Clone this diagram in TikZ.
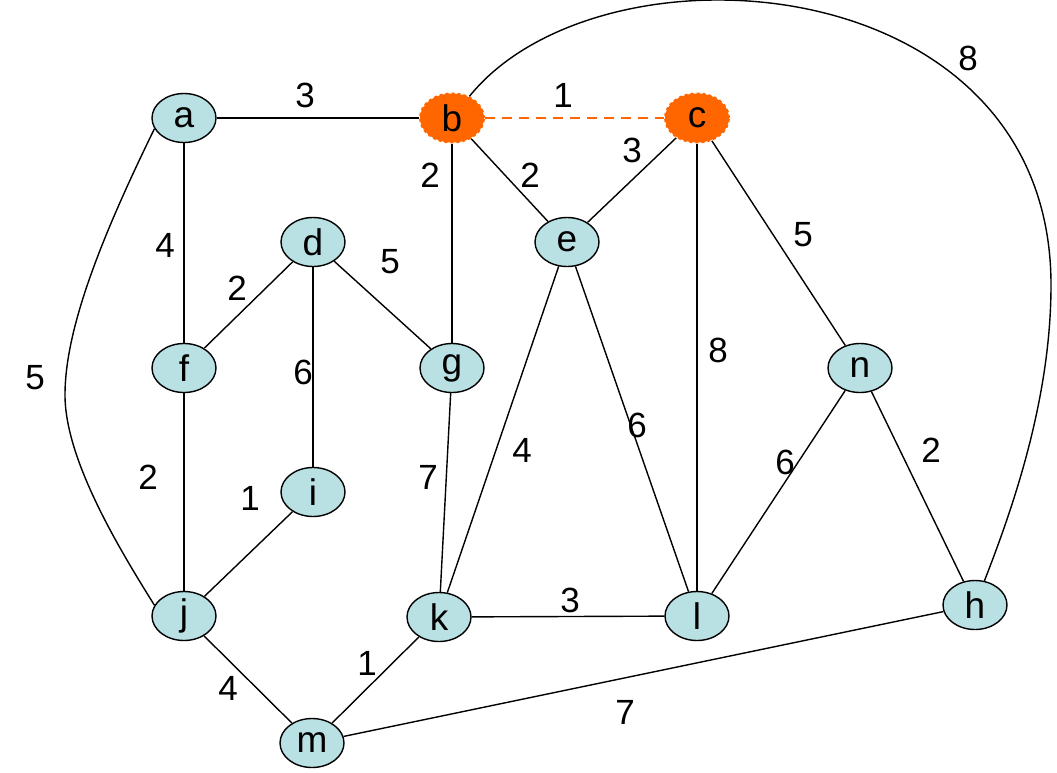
\documentclass[tikz,border=0pt]{standalone}
\usepackage{fontspec}
\setmainfont{Liberation Sans}
\usetikzlibrary{shapes.geometric}
\definecolor{nodeblue}{HTML}{B9E0E3}
\definecolor{hotorange}{HTML}{FF6600}
\begin{document}
\begin{tikzpicture}[x=1pt,y=-1pt,
  vert/.style={ellipse,draw=black,line width=1.4pt,fill=nodeblue,minimum width=64pt,minimum height=49pt,inner sep=0pt,font=\fontsize{37}{40}\selectfont},
  hot/.style={vert,draw=hotorange,dashed,fill=hotorange,line width=2pt},
  wt/.style={font=\fontsize{35}{38}\selectfont,inner sep=0pt},
  edge/.style={line width=1.4pt,black},
  hotedge/.style={line width=2pt,hotorange,dash pattern=on 10pt off 7pt}]
\useasboundingbox (0,0) rectangle (1057,772);
\node[vert] (a) at (184,118) {a};
\node[hot]  (b) at (452,118) {b};
\node[hot]  (c) at (697,118) {c};
\node[vert] (d) at (313,242) {d};
\node[vert] (e) at (567,242) {e};
\node[vert] (f) at (184,368) {f};
\node[vert] (g) at (452,368) {g};
\node[vert] (n) at (860,368) {n};
\node[vert] (i) at (313,492) {i};
\node[vert] (j) at (184,616) {j};
\node[vert] (k) at (439,617) {k};
\node[vert] (l) at (697,616) {l};
\node[vert] (h) at (975,605) {h};
\node[vert] (m) at (312,743) {m};
\coordinate (bh) at (1051,285);
\coordinate (aj) at (65,395);
\draw[edge] (a) -- (b);
\draw[hotedge] (b) -- (c);
\draw[edge] (a) -- (f);
\draw[edge] (a.200) .. controls (100,240) and (65,330) .. (aj) .. controls (65,460) and (120,550) .. (j.160);
\draw[edge] (b) -- (g);
\draw[edge] (b) -- (e);
\draw[edge] (c) -- (e);
\draw[edge] (c) -- (l);
\draw[edge] (c) -- (n);
\draw[edge] (b) .. controls (600,-66) and (1051,-36) .. (bh) .. controls (1051,400) and (1012,510) .. (h);
\draw[edge] (d) -- (f);
\draw[edge] (d) -- (g);
\draw[edge] (d) -- (i);
\draw[edge] (f) -- (j);
\draw[edge] (i) -- (j);
\draw[edge] (g) -- (k);
\draw[edge] (e) -- (k);
\draw[edge] (e) -- (l);
\draw[edge] (n) -- (l);
\draw[edge] (n) -- (h);
\draw[edge] (k) -- (l);
\draw[edge] (j) -- (m);
\draw[edge] (m) -- (k);
\draw[edge] (m) -- (h);
\node[wt] (wab) at (305,95) {3};
\node[wt] (wbc) at (563,95) {1};
\node[wt] (waf) at (165,245) {4};
\node[wt] (waj) at (35,378) {5};
\node[wt] (wbg) at (430,175) {2};
\node[wt] (wbe) at (530,175) {2};
\node[wt] (wce) at (632,150) {3};
\node[wt] (wcl) at (718,350) {8};
\node[wt] (wcn) at (803,235) {5};
\node[wt] (wbh) at (968,58) {8};
\node[wt] (wdf) at (237,288) {2};
\node[wt] (wdg) at (390,262) {5};
\node[wt] (wdi) at (303,372) {6};
\node[wt] (wfj) at (148,477) {2};
\node[wt] (wij) at (250,498) {1};
\node[wt] (wgk) at (428,477) {7};
\node[wt] (wek) at (522,450) {4};
\node[wt] (wel) at (637,425) {6};
\node[wt] (wnl) at (785,462) {6};
\node[wt] (wnh) at (931,450) {2};
\node[wt] (wkl) at (570,600) {3};
\node[wt] (wjm) at (228,688) {4};
\node[wt] (wmk) at (367,663) {1};
\node[wt] (wmh) at (625,712) {7};
\end{tikzpicture}
\end{document}
